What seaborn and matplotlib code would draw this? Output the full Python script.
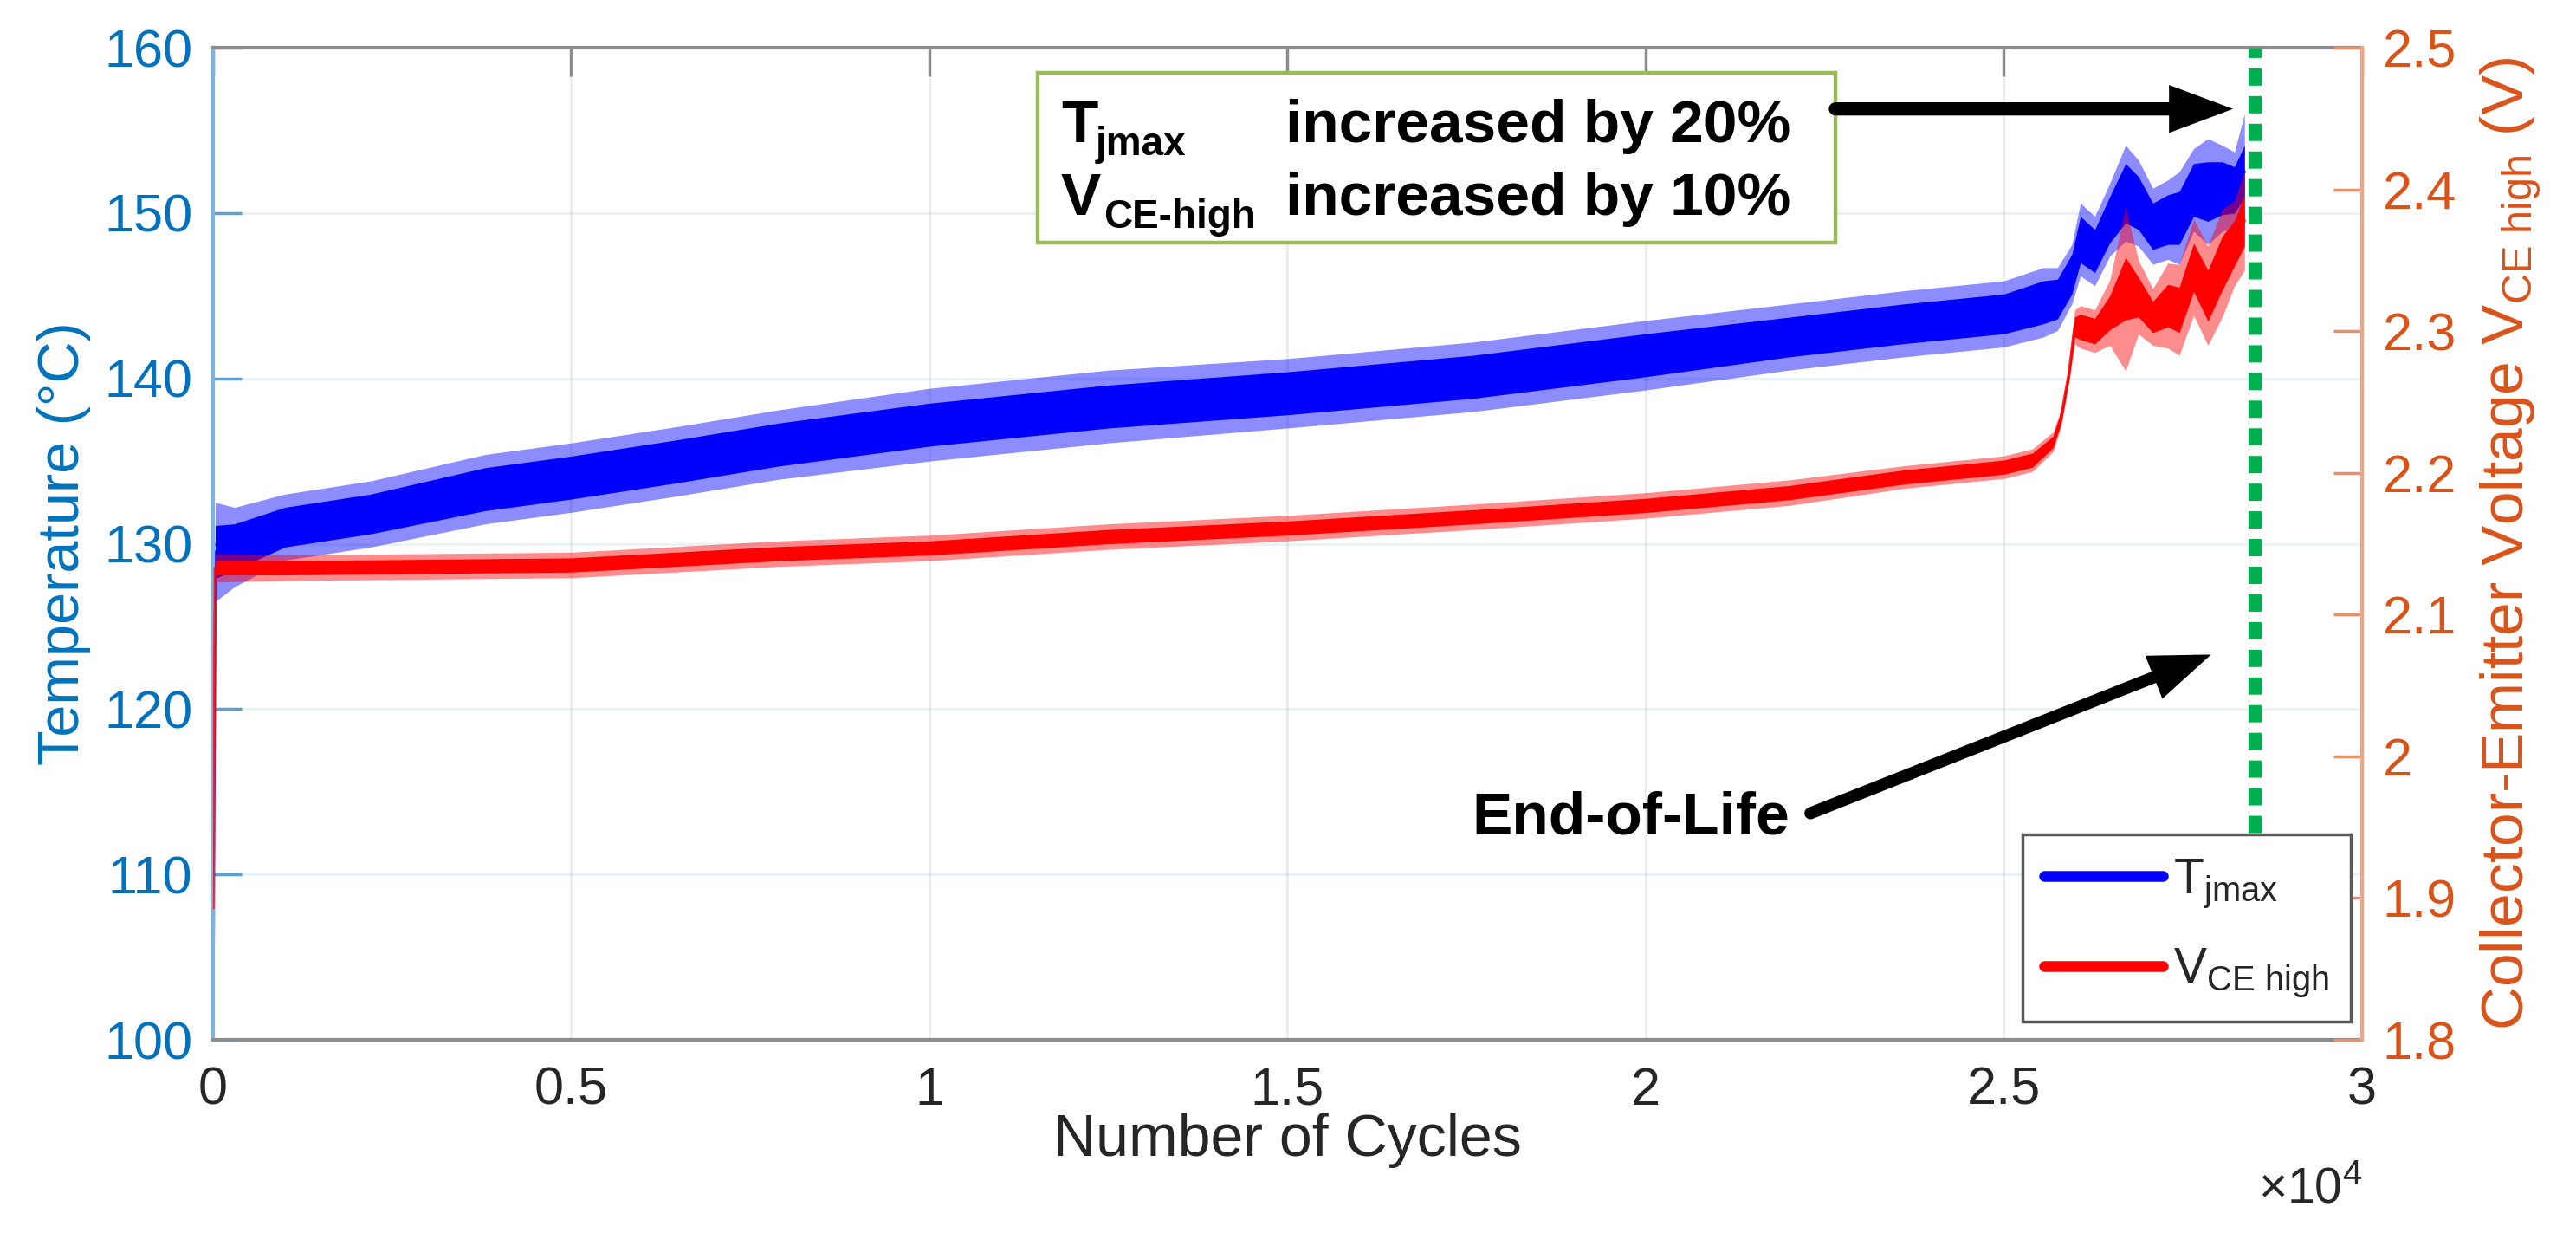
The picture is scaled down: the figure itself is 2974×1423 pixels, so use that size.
import numpy as np
import matplotlib
matplotlib.use("Agg")
import matplotlib.pyplot as plt
from matplotlib.patches import Rectangle
from matplotlib.lines import Line2D
from matplotlib.ticker import FuncFormatter
import seaborn as sns

# ─── Data ────────────────────────────────────────────────────────────────────
# Junction temperature: centre of the noisy trace, plus half widths of the
# dense core and of the spike envelope (all in °C)
T_CYCLES = [0, 30, 300, 1000, 2200, 3800, 5000, 6500, 7900, 10000, 12500,
            15000, 17600, 20000, 22000, 23600, 25000, 25550, 25750, 25950,
            26070, 26270, 26480, 26700, 26880, 27080, 27290, 27450, 27650,
            27850, 28050, 28220, 28360]
T_MID = [102.0, 129.5, 129.8, 131.0, 131.8, 133.3, 134.0, 135.0, 136.0, 137.2,
         138.3, 139.1, 140.1, 141.4, 142.5, 143.3, 143.9, 144.6, 144.8, 146.3,
         148.4, 147.7, 149.6, 151.2, 150.6, 149.2, 149.6, 149.7, 151.4, 151.3,
         151.5, 151.4, 152.5]
T_SPIKE = [0.0, 3.0, 2.4, 2.0, 2.0, 2.1, 2.1, 2.1, 2.1, 2.2, 2.2, 2.1, 2.1,
           2.1, 2.0, 2.0, 2.0, 2.1, 1.9, 1.8, 2.2, 2.1, 2.2, 2.9, 2.6, 2.3,
           2.4, 2.8, 2.5, 3.2, 2.6, 2.3, 3.5]
T_CORE = [0.0, 1.6, 1.4, 1.2, 1.2, 1.3, 1.3, 1.3, 1.3, 1.3, 1.3, 1.3, 1.3,
          1.3, 1.2, 1.2, 1.2, 1.3, 1.2, 1.2, 1.4, 1.3, 1.4, 1.8, 1.6, 1.4,
          1.5, 1.6, 1.6, 1.8, 1.6, 1.4, 1.6]

# Collector-emitter voltage (V)
V_CYCLES = [0, 30, 1000, 5000, 7900, 10000, 12500, 15000, 17600, 20000, 22000,
            23600, 25000, 25400, 25690, 25800, 25910, 25990, 26070, 26270,
            26480, 26700, 26880, 27080, 27290, 27450, 27650, 27850, 28050,
            28220, 28360]
V_MID = [1.893, 2.133, 2.133, 2.135, 2.143, 2.147, 2.155, 2.161, 2.169, 2.177,
         2.186, 2.197, 2.204, 2.209, 2.222, 2.239, 2.270, 2.303, 2.303, 2.300,
         2.313, 2.330, 2.324, 2.310, 2.318, 2.315, 2.345, 2.325, 2.348, 2.362,
         2.378]
V_SPIKE = [0.0, 0.010, 0.009, 0.009, 0.009, 0.009, 0.009, 0.009, 0.009, 0.009,
           0.009, 0.008, 0.008, 0.008, 0.007, 0.006, 0.006, 0.012, 0.015,
           0.015, 0.023, 0.058, 0.026, 0.020, 0.030, 0.032, 0.034, 0.035,
           0.038, 0.030, 0.035]
V_CORE = [0.0, 0.005, 0.005, 0.005, 0.005, 0.005, 0.005, 0.005, 0.005, 0.005,
          0.005, 0.005, 0.005, 0.005, 0.004, 0.004, 0.004, 0.007, 0.009, 0.009,
          0.012, 0.022, 0.014, 0.011, 0.015, 0.016, 0.017, 0.018, 0.019, 0.016,
          0.018]

EOL_CYCLE = 28500
X_TICKS = [0, 5000, 10000, 15000, 20000, 25000, 30000]
T_TICKS = [100, 110, 120, 130, 140, 150, 160]
V_TICKS = [1.8, 1.9, 2.0, 2.1, 2.2, 2.3, 2.4, 2.5]

# ─── Style ───────────────────────────────────────────────────────────────────
BLUE_AX = "#0072BD"
ORANGE_AX = "#D95319"
DARK = "#262626"
T_COLOR = "#0000FF"
V_COLOR = "#FF0000"
EOL_GREEN = "#00B050"
BOX_GREEN = "#9BBB59"
SANS = ["Liberation Sans", "DejaVu Sans"]

sns.set_style("white")
plt.rcParams.update({
    "font.family": SANS,
    "mathtext.fontset": "custom",
    "mathtext.rm": "Liberation Sans",
    "mathtext.it": "Liberation Sans:italic",
    "mathtext.bf": "Liberation Sans:bold",
})

fig = plt.figure(figsize=(29.74, 14.23), dpi=100)
ax = fig.add_axes([0.0827, 0.1567, 0.8342, 0.8046])
ax2 = ax.twinx()


def draw_band(a, cyc, mid, spike, core, color):
    cyc = np.asarray(cyc, dtype=float)
    mid = np.asarray(mid, dtype=float)
    spike = np.asarray(spike, dtype=float)
    core = np.asarray(core, dtype=float)
    a.fill_between(cyc, mid - spike, mid + spike, color=color, alpha=0.45,
                   lw=0)
    a.fill_between(cyc, mid - core, mid + core, color=color, lw=0)
    sns.lineplot(x=cyc, y=mid, ax=a, color=color, lw=2.5, alpha=0.8,
                 estimator=None, sort=False, legend=False)


draw_band(ax, T_CYCLES, T_MID, T_SPIKE, T_CORE, T_COLOR)
draw_band(ax2, V_CYCLES, V_MID, V_SPIKE, V_CORE, V_COLOR)

# ── axes ranges / ticks ──────────────────────────────────────────────────────
ax.set_xlim(0, 30000)
ax.set_ylim(100, 160)
ax2.set_ylim(1.8, 2.5)
ax.set_xticks(X_TICKS)
ax.set_yticks(T_TICKS)
ax2.set_yticks(V_TICKS)
ax.xaxis.set_major_formatter(FuncFormatter(lambda v, p: f"{v / 1e4:g}"))
ax2.yaxis.set_major_formatter(FuncFormatter(lambda v, p: f"{v:g}"))

ax.set_axisbelow(True)
ax.grid(axis="y", color=BLUE_AX, alpha=0.09, lw=2.2)
ax.grid(axis="x", color=DARK, alpha=0.08, lw=2.2)

ax.tick_params(axis="x", direction="in", length=24, width=2.5, top=True,
               color="#8C8C8C", labelcolor=DARK, labelsize=44, pad=22)
ax.tick_params(axis="y", direction="in", length=24, width=2.5,
               color="#5E9FD4", labelcolor=BLUE_AX, labelsize=44, pad=17)
ax2.tick_params(axis="y", direction="in", length=24, width=2.5,
                color="#E8906A", labelcolor=ORANGE_AX, labelsize=44, pad=17)

for side in ["top", "bottom"]:
    ax.spines[side].set_color("#8C8C8C")
    ax.spines[side].set_linewidth(3)
ax.spines["left"].set_color("#7FB2DC")
ax.spines["left"].set_linewidth(3)
ax.spines["right"].set_visible(False)
for side in ["top", "bottom", "left"]:
    ax2.spines[side].set_visible(False)
ax2.spines["right"].set_color("#EDA488")
ax2.spines["right"].set_linewidth(3)

ax.set_xlabel("Number of Cycles", fontsize=49, color=DARK)
ax.set_ylabel("Temperature (°C)", fontsize=48, color=BLUE_AX)
ax2.set_ylabel(r"Collector-Emitter Voltage V$_{\mathrm{CE\ high}}$ (V)",
               fontsize=50, color=ORANGE_AX)
ax.xaxis.set_label_coords(0.5, -0.073)
ax.yaxis.set_label_coords(-0.057, 0.5)
ax2.yaxis.set_label_coords(1.054, 0.5)

fig.text(2727 / 2974, 1 - 1388 / 1423, r"×10$^{4}$", ha="right",
         va="baseline", fontsize=41, color=DARK)

# ── end-of-life marker (stops at the legend) ─────────────────────────────────
ax.vlines(EOL_CYCLE, 112.5, 160, color=EOL_GREEN, lw=10.8,
          linestyles=[(0, (1.33, 0.8))], zorder=3)

# ── annotation box ───────────────────────────────────────────────────────────
ax.add_patch(Rectangle((11514, 148.2), 22649 - 11514, 158.5 - 148.2,
                       facecolor="white", edgecolor=BOX_GREEN, lw=3.2,
                       zorder=6))
txt_kw = dict(family=SANS, weight="bold", color="black", zorder=7,
              va="baseline", ha="left")
ax.text(11838, 154.3, "T", fontsize=50, **txt_kw)
ax.text(12324, 153.5, "jmax", fontsize=33, **txt_kw)
ax.text(14973, 154.3, "increased by 20%", fontsize=50, **txt_kw)
ax.text(11838, 149.9, "V", fontsize=50, **txt_kw)
ax.text(12432, 149.1, "CE-high", fontsize=33, **txt_kw)
ax.text(14973, 149.9, "increased by 10%", fontsize=50, **txt_kw)

arrow_kw = dict(arrowstyle="-|>,head_length=1.6,head_width=0.6", color="black",
                lw=11, mutation_scale=20, shrinkA=0, shrinkB=0,
                joinstyle="miter")
ax.annotate("", xy=(28200, 156.3), xytext=(22649, 156.3),
            arrowprops=arrow_kw, zorder=7)

ax.text(17579, 112.46, "End-of-Life", fontsize=50, **txt_kw)
ax.annotate("", xy=(27895, 123.3), xytext=(22300, 113.7),
            arrowprops=dict(arrow_kw, lw=10), zorder=7)

# ── legend ───────────────────────────────────────────────────────────────────
handles = [Line2D([], [], color=T_COLOR, lw=9),
           Line2D([], [], color=V_COLOR, lw=9)]
labels = [r"T$_{\mathrm{jmax}}$", r"V$_{\mathrm{CE\ high}}$"]
leg = ax2.legend(handles, labels, loc="lower right",
                 bbox_to_anchor=(0.9948, 0.0183), fontsize=41,
                 frameon=True, fancybox=False, framealpha=1,
                 edgecolor="#5A5A5A", handlelength=2.4, handletextpad=0.2,
                 labelspacing=0.75, borderpad=0.45, borderaxespad=0)
leg.get_frame().set_linewidth(2.5)
leg.set_zorder(10)

fig.savefig("out.png", dpi=100, facecolor="white")
